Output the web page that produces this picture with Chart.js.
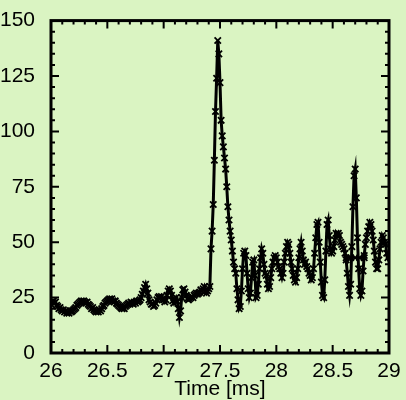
<!DOCTYPE html>
<html>
<head>
<meta charset="utf-8">
<script src="https://cdn.jsdelivr.net/npm/chart.js@4.4.1/dist/chart.umd.min.js"></script>
<style>
  html, body { margin: 0; padding: 0; background: #daf4c2; }
  #wrap { width: 406px; height: 400px; }
</style>
</head>
<body>
<div id="wrap"><canvas id="grafico" width="406" height="400"></canvas></div>
<script>
// muestras cada 0.01 ms, desde 26.00 hasta 29.00
const tInicio = 26.0;
const paso = 0.01;
const senal = [
  22, 23, 23.5, 22.5, 23, 21.5, 21, 20, 20.5, 19.5,      // 26.0
  19, 19.5, 18.5, 19, 18, 18.5, 18, 19, 18.5, 19,        // 26.1
  19.5, 20, 20.5, 21.5, 22, 22.5, 23, 23.5, 23, 23.5,    // 26.2
  23, 22.5, 23, 22, 21.5, 21, 20, 20.5, 19.5, 19,        // 26.3
  18.5, 19, 18.5, 19.5, 19, 20, 21, 21.5, 22.5, 23,      // 26.4
  23.5, 24, 24.5, 24, 24.5, 23.5, 23, 23.5, 22.5, 22,    // 26.5
  21.5, 21, 20.5, 20, 20.5, 20, 21, 21.5, 22, 22.5,      // 26.6
  22, 23, 22.5, 22, 23, 22.5, 23.5, 23, 23.5, 24,        // 26.7
  25, 26.5, 28, 29.5, 31, 29, 27, 24, 23, 22,            // 26.8
  22, 21, 21.5, 22.5, 24, 25, 25.5, 25, 25.5, 24.5,      // 26.9
  24, 23, 24, 26, 28, 29, 28, 26, 23.5, 22.5,            // 27.0
  24, 25, 23.5, 20, 16, 19, 25, 28.5, 29, 27.5,          // 27.1
  26, 24.5, 24, 24.5, 25, 25.5, 25, 26, 26.5, 27,        // 27.2
  26.5, 27, 27.5, 28.5, 28, 29, 30, 28, 27, 28,          // 27.3
  29, 30, 47, 55, 67, 87, 109, 124, 141, 135,            // 27.4
  122, 105, 98, 93, 88, 83, 75, 66, 60, 55,              // 27.5
  51, 46, 41, 38, 36, 29, 24, 20, 21, 28,                // 27.6
  38, 45, 46, 44, 36, 29, 25, 27, 34, 41,                // 27.7
  42, 35, 25, 26, 31, 38, 43, 47, 45, 40,                // 27.8
  36, 35, 31, 29, 30, 34, 38, 41, 43, 44,                // 27.9
  43, 41, 39, 38, 36, 34, 36, 41, 45, 48,                // 28.0
  50, 49, 45, 41, 38, 35, 33, 32, 34, 38,                // 28.1
  43, 47, 50, 46, 42, 40, 41, 39, 38, 36,                // 28.2
  35, 33, 34, 38, 45, 52, 58, 59, 50, 41,                // 28.3
  32, 26, 25, 33, 46, 58, 60, 53, 47, 45,                // 28.4
  46, 48, 51, 54, 53, 54, 53, 50, 49, 48,                // 28.5
  47, 45, 42, 36, 30, 26, 31, 48, 66, 80,                // 28.6
  83, 70, 52, 38, 29, 26, 28, 37, 44, 49,                // 28.7
  52, 55, 57, 59, 58, 55, 51, 46, 41, 38,                // 28.8
  38, 42, 47, 50, 53, 52, 50, 49, 45, 43,                // 28.9
  44                                                     // 29.0
];
// tramo horizontal que cruza el pico de 28.7
const tramoX = [28.62, 28.66, 28.70, 28.74, 28.78];
const tramoY = [43, 43, 43, 43, 43];
const ticksX = [26, 26.5, 27, 27.5, 28, 28.5, 29];
const ticksY = [0, 25, 50, 75, 100, 125, 150];

const puntos = senal.map((v, i) => ({ x: +(tInicio + i * paso).toFixed(2), y: v }));
const puntosTramo = tramoX.map((t, i) => ({ x: t, y: tramoY[i] }));

// marco negro y ticks hacia adentro en los 4 lados
const marco = {
  id: 'marco',
  afterDatasetsDraw(chart) {
    const { ctx, chartArea: a, scales: { x, y } } = chart;
    ctx.save();
    ctx.strokeStyle = '#000';
    ctx.lineWidth = 2;
    ctx.beginPath();
    for (let i = 0; i < ticksX.length - 1; i++) {
      for (let k = 0; k < 5; k++) {
        const v = ticksX[i] + (ticksX[i + 1] - ticksX[i]) * k / 5;
        const px = x.getPixelForValue(v);
        const len = k === 0 ? 8 : 4;
        ctx.moveTo(px, a.bottom); ctx.lineTo(px, a.bottom - len);
        ctx.moveTo(px, a.top); ctx.lineTo(px, a.top + len);
      }
    }
    for (let i = 0; i < ticksY.length - 1; i++) {
      for (let k = 0; k < 5; k++) {
        const v = ticksY[i] + (ticksY[i + 1] - ticksY[i]) * k / 5;
        const py = y.getPixelForValue(v);
        const len = k === 0 ? 8 : 4;
        ctx.moveTo(a.left, py); ctx.lineTo(a.left + len, py);
        ctx.moveTo(a.right, py); ctx.lineTo(a.right - len, py);
      }
    }
    ctx.stroke();
    ctx.lineWidth = 3;
    ctx.strokeRect(a.left, a.top, a.right - a.left, a.bottom - a.top);
    ctx.restore();
  }
};

const fuente = { family: '"Liberation Sans", Arial, sans-serif', size: 21 };

const chart1 = new Chart(document.getElementById('grafico'), {
  type: 'line',
  data: {
    datasets: [{
      data: puntos,
      borderColor: '#000',
      borderWidth: 3,
      pointStyle: 'crossRot',
      pointRadius: 4.5,
      pointBorderWidth: 1.8,
      pointBorderColor: '#000',
      tension: 0
    }, {
      data: puntosTramo,
      borderColor: '#000',
      borderWidth: 2,
      pointStyle: 'crossRot',
      pointRadius: 4.5,
      pointBorderWidth: 1.8,
      pointBorderColor: '#000',
      tension: 0
    }]
  },
  options: {
    responsive: false,
    animation: false,
    layout: { autoPadding: false, padding: { top: 15, right: 17, left: 0, bottom: 0 } },
    plugins: { legend: { display: false }, tooltip: { enabled: false } },
    scales: {
      x: {
        type: 'linear',
        min: 26, max: 29,
        grid: { display: false },
        border: { display: false },
        afterBuildTicks: (s) => { s.ticks = ticksX.map(v => ({ value: v })); },
        afterFit: (s) => { s.height = 47; },
        ticks: { color: '#000', font: { ...fuente, lineHeight: 1 }, padding: 0, maxRotation: 0, autoSkip: false,
                 callback: (v) => String(v) },
        title: { display: true, text: 'Time [ms]', color: '#000', font: fuente, padding: { top: 0, bottom: -2 } }
      },
      y: {
        min: 0, max: 150,
        grid: { display: false },
        border: { display: false },
        afterBuildTicks: (s) => { s.ticks = ticksY.map(v => ({ value: v })); },
        afterFit: (s) => { s.width = 51; },
        ticks: { color: '#000', font: fuente, padding: 8 }
      }
    }
  },
  plugins: [marco]
});
</script>
</body>
</html>
